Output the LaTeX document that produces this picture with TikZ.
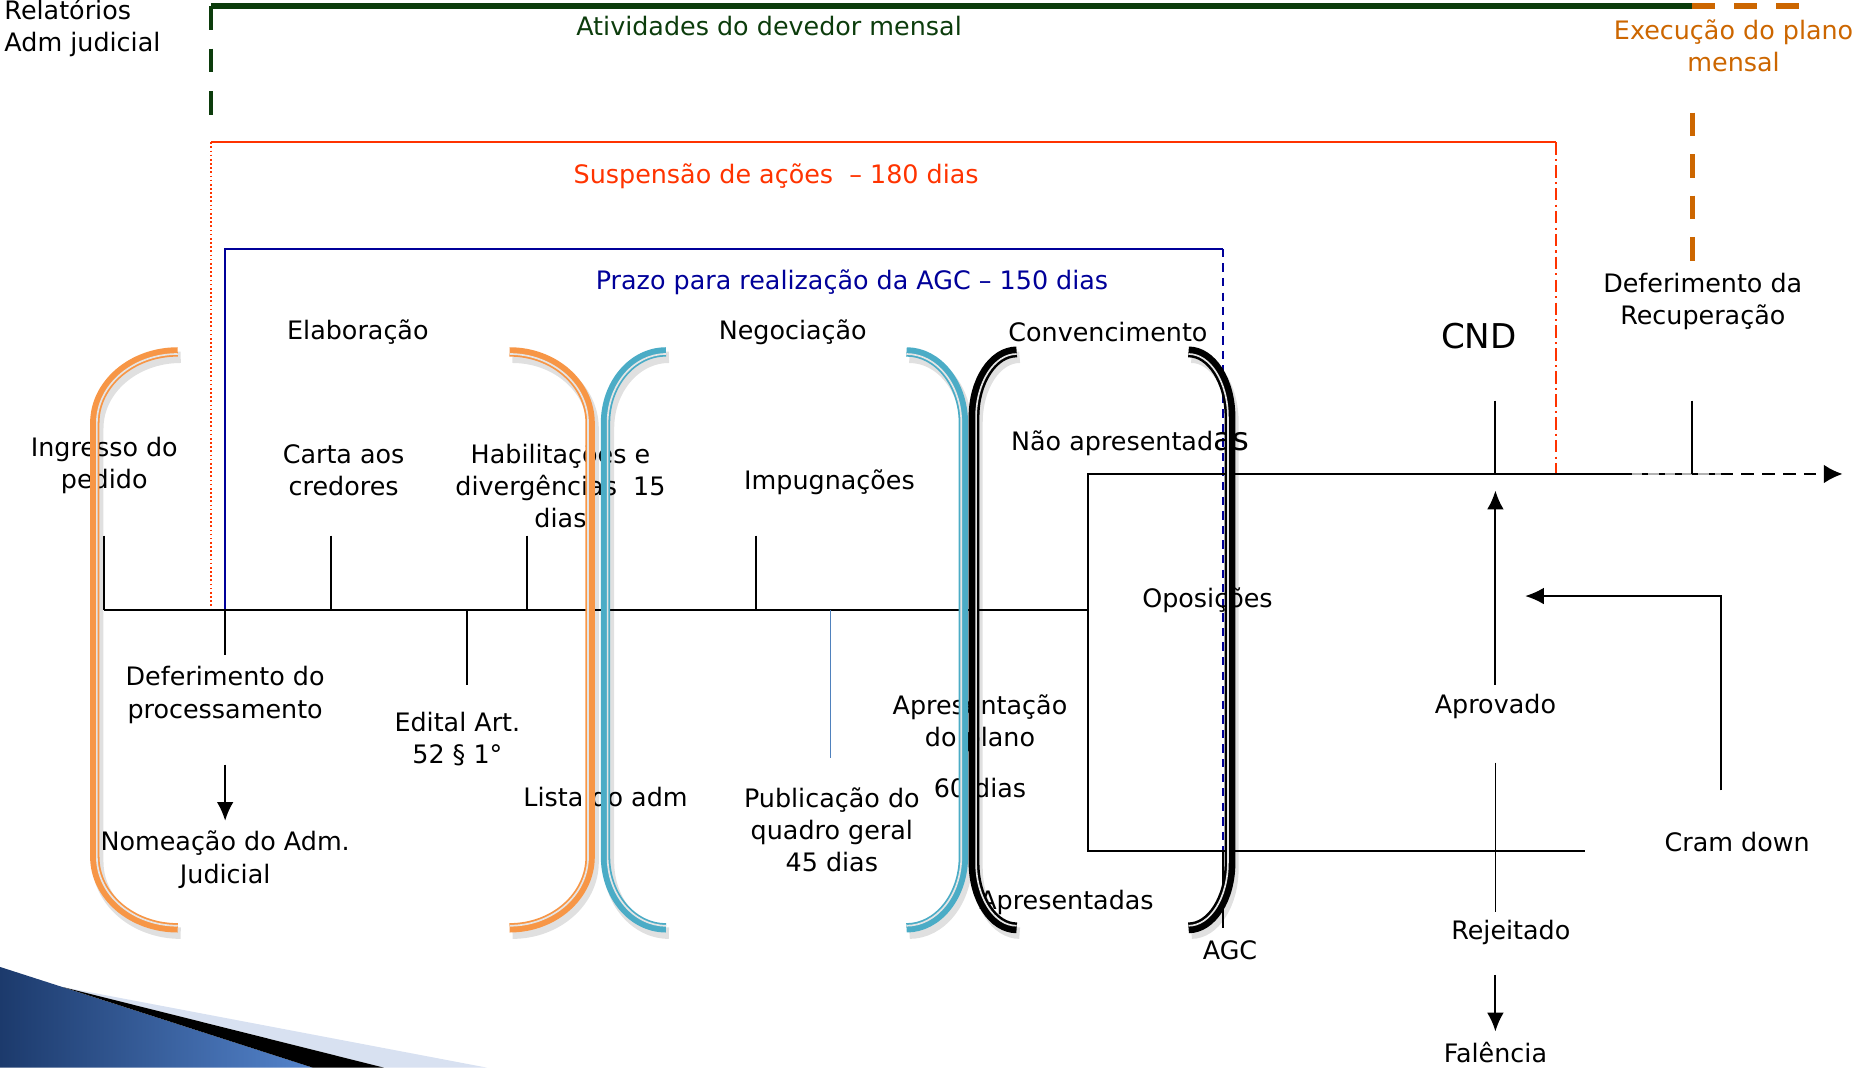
\documentclass[tikz,border=0pt]{standalone}
\usepackage{fontspec}
\setmainfont{DejaVu Sans}
\usetikzlibrary{arrows.meta}

\definecolor{verdeescuro}{RGB}{12,60,12}
\definecolor{laranjaplano}{RGB}{204,102,0}
\definecolor{vermelho}{RGB}{255,51,0}
\definecolor{azulprazo}{RGB}{0,0,153}
\definecolor{laranjabr}{RGB}{247,150,70}
\definecolor{azulbr}{RGB}{75,172,198}
\definecolor{azultick}{RGB}{79,129,189}
\definecolor{navy}{RGB}{28,58,108}
\definecolor{slideblue}{RGB}{84,132,204}
\definecolor{slidepale}{RGB}{216,225,241}

\tikzset{
    >={Latex[length=9pt, width=8pt]},
    lbl/.style={inner sep=0pt, align=center},
    brshadow/.style={preaction={draw=black, opacity=0.12, line width=5.5pt, transform canvas={shift={(0.05,-0.09)}}}},
    orangebr/.style={brshadow, draw=laranjabr, line width=4.5pt},
    bluebr/.style={brshadow, draw=azulbr, line width=4.5pt},
    blackbr/.style={brshadow, draw=black, line width=5.2pt},
    brgap/.style={draw=black!10, line width=0.8pt},
}

\begin{document}
\begin{tikzpicture}[font=\fontsize{12.2}{15.4}\selectfont, line width=0.9pt]
    \useasboundingbox (0,0) rectangle (31.36,-18.02);

    % slide corner
    \shade[left color=navy, right color=slideblue] (0,-16.32) -- (5.28,-18.02) -- (0,-18.02) -- cycle;
    \fill[slidepale] (1.06,-16.66) -- (8.22,-18.02) -- (6.48,-18.02) -- cycle;
    \fill[black] (1.06,-16.66) -- (6.48,-18.02) -- (5.28,-18.02) -- cycle;

    % periods
    \draw[verdeescuro, line width=2.6pt] (3.56,-0.1) -- (28.56,-0.1);
    \draw[verdeescuro, line width=2.3pt, dash pattern=on 0.4cm off 0.32cm] (3.56,-0.1) -- (3.56,-1.94);
    \draw[laranjaplano, line width=2.6pt, dash pattern=on 0.38cm off 0.33cm] (28.56,-0.1) -- (30.36,-0.1);
    \draw[laranjaplano, line width=2.3pt, dash pattern=on 0.4cm off 0.3cm] (28.56,-1.9) -- (28.56,-4.4);
    \draw[vermelho, line width=0.8pt] (3.56,-2.4) -- (26.26,-2.4);
    \draw[vermelho, line width=0.8pt, dash pattern=on 0.8pt off 1.2pt] (3.56,-2.4) -- (3.56,-10.3);
    \draw[vermelho, line width=0.8pt, dash pattern=on 6pt off 2pt on 1pt off 2pt] (26.26,-2.4) -- (26.26,-8.0);
    \draw[azulprazo, line width=0.9pt] (3.8,-10.3) -- (3.8,-4.2) -- (20.64,-4.2);
    \draw[azulprazo, line width=0.9pt, dash pattern=on 4pt off 3pt] (20.64,-4.2) -- (20.64,-14.36);

    % timeline
    \draw (1.76,-10.3) -- (18.36,-10.3);
    \draw (29.04,-8.0) -- (18.36,-8.0) -- (18.36,-14.36) -- (26.76,-14.36);
    \draw[gray!60, line width=1.2pt, dash pattern=on 5pt off 3pt] (27.54,-8.0) -- (29.04,-8.0);
    \draw[-{Latex[length=9pt, width=9pt]}, line width=1.2pt, dash pattern=on 6pt off 4pt] (29.04,-8.0) -- (31.1,-8.0);
    \draw (1.76,-9.04) -- (1.76,-10.3);
    \draw (5.58,-9.04) -- (5.58,-10.3);
    \draw (8.9,-9.04) -- (8.9,-10.3);
    \draw (12.76,-9.04) -- (12.76,-10.3);
    \draw (3.8,-10.3) -- (3.8,-11.06);
    \draw (7.88,-10.3) -- (7.88,-11.56);
    \draw[azultick, line width=0.7pt] (14.02,-10.3) -- (14.02,-12.8);
    \draw (25.24,-6.76) -- (25.24,-8.0);
    \draw (28.56,-6.76) -- (28.56,-8.0);
    \draw (20.64,-14.36) -- (20.64,-15.66);

    \coordinate (cndpt) at (25.24,-8.0);
    \coordinate (cramturn) at (29.04,-10.06);
    \coordinate (cramtip) at (25.74,-10.06);

    % labels
    \node[lbl, anchor=west, align=left] (relat) at (0.06,-0.47) {Relatórios\\Adm judicial};
    \node[lbl, text=verdeescuro] (ativ) at (12.98,-0.44) {Atividades do devedor mensal};
    \node[lbl, text=laranjaplano] (exec) at (29.26,-0.77) {Execução do plano\\mensal};
    \node[lbl, text=vermelho] (susp) at (13.1,-2.98) {Suspensão de ações~ – 180 dias};
    \node[lbl, text=azulprazo] (prazo) at (14.38,-4.76) {Prazo para realização da AGC – 150 dias};
    \node[lbl] (elab) at (6.04,-5.6) {Elaboração};
    \node[lbl] (negoc) at (13.38,-5.6) {Negociação};
    \node[lbl] (conv) at (18.7,-5.6) {Convencimento};
    \node[lbl, font=\fontsize{16.4}{19}\selectfont] (cnd) at (24.96,-5.68) {CND};
    \node[lbl] (deferrec) at (28.74,-5.09) {Deferimento da\\Recuperação};
    \node[lbl] (ingresso) at (1.76,-7.85) {Ingresso do\\pedido};
    \node[lbl] (carta) at (5.8,-7.93) {Carta aos\\credores};
    \node[lbl] (habil) at (9.46,-8.2) {Habilitações e\\divergências~ 15\\dias};
    \node[lbl] (impug) at (14.0,-8.14) {Impugnações};
    \node[lbl] (naoapr) at (19.08,-7.48) {Não apresentad{\fontsize{15.5}{15.5}\selectfont as}};
    \node[lbl] (oposic) at (20.38,-10.14) {Oposições};
    \node[lbl] (deferproc) at (3.8,-11.73) {Deferimento do\\processamento};
    \node[lbl] (edital) at (7.72,-12.47) {Edital Art.\\52 § 1°};
    \node[lbl] (lista) at (10.22,-13.46) {Lista do adm};
    \node[lbl] (public) at (14.04,-14.0) {Publicação do\\quadro geral\\45 dias};
    \node[lbl] (apres) at (16.54,-12.21) {Apresentação\\do plano};
    \node[lbl] (sessenta) at (16.54,-13.3) {60 dias};
    \node[lbl] (nomeacao) at (3.8,-14.51) {Nomeação do Adm.\\Judicial};
    \node[lbl] (apresentadas) at (18.0,-15.24) {Apresentadas};
    \node[lbl] (agc) at (20.76,-16.04) {AGC};
    \node[lbl] (aprovado) at (25.24,-11.92) {Aprovado};
    \node[lbl] (cramdown) at (29.32,-14.22) {Cram down};
    \node[lbl] (rejeitado) at (25.5,-15.74) {Rejeitado};
    \node[lbl] (falencia) at (25.24,-17.76) {Falência};

    % outcomes
    \draw[->, line width=1pt, shorten <=0.68cm, shorten >=0.16cm] (deferproc) -- (nomeacao);
    \draw[->, line width=1pt, shorten <=0.14cm, shorten >=0.28cm] (aprovado.north) -- (cndpt);
    \draw[line width=0.8pt, shorten <=0.73cm, shorten >=0.13cm] (aprovado.south) -- (aprovado.south |- rejeitado.north);
    \draw[->, line width=1pt, shorten <=0.49cm, shorten >=0.16cm] (rejeitado.south -| falencia.north) -- (falencia.north);
    \draw[->, line width=1pt, shorten <=0.7cm] (cramdown.north -| cramturn) -- (cramturn) -- (cramtip);

    % phase brackets
    \draw[orangebr] (3.0,-5.94) arc[start angle=90, end angle=180, x radius=1.4, y radius=1.2] -- ++(0,-7.32) arc[start angle=180, end angle=270, x radius=1.4, y radius=1.2];
    \draw[brgap] (3.0,-5.975) arc[start angle=90, end angle=180, x radius=1.365, y radius=1.165] -- ++(0,-7.32) arc[start angle=180, end angle=270, x radius=1.365, y radius=1.165];
    \draw[orangebr] (8.6,-5.94) arc[start angle=90, end angle=0, x radius=1.36, y radius=1.2] -- ++(0,-7.32) arc[start angle=0, end angle=-90, x radius=1.36, y radius=1.2];
    \draw[brgap] (8.6,-5.975) arc[start angle=90, end angle=0, x radius=1.325, y radius=1.165] -- ++(0,-7.32) arc[start angle=0, end angle=-90, x radius=1.325, y radius=1.165];
    \draw[bluebr] (11.24,-5.94) arc[start angle=90, end angle=180, x radius=1.02, y radius=1.2] -- ++(0,-7.32) arc[start angle=180, end angle=270, x radius=1.02, y radius=1.2];
    \draw[brgap] (11.24,-5.975) arc[start angle=90, end angle=180, x radius=0.985, y radius=1.165] -- ++(0,-7.32) arc[start angle=180, end angle=270, x radius=0.985, y radius=1.165];
    \draw[bluebr] (15.3,-5.94) arc[start angle=90, end angle=0, x radius=0.96, y radius=1.2] -- ++(0,-7.32) arc[start angle=0, end angle=-90, x radius=0.96, y radius=1.2];
    \draw[brgap] (15.3,-5.975) arc[start angle=90, end angle=0, x radius=0.925, y radius=1.165] -- ++(0,-7.32) arc[start angle=0, end angle=-90, x radius=0.925, y radius=1.165];
    \draw[blackbr] (17.16,-5.94) arc[start angle=90, end angle=180, x radius=0.72, y radius=1.1] -- ++(0,-7.52) arc[start angle=180, end angle=270, x radius=0.72, y radius=1.1];
    \draw[brgap] (17.16,-5.975) arc[start angle=90, end angle=180, x radius=0.685, y radius=1.065] -- ++(0,-7.52) arc[start angle=180, end angle=270, x radius=0.685, y radius=1.065];
    \draw[blackbr] (20.06,-5.94) arc[start angle=90, end angle=0, x radius=0.7, y radius=1.1] -- ++(0,-7.52) arc[start angle=0, end angle=-90, x radius=0.7, y radius=1.1];
    \draw[brgap] (20.06,-5.975) arc[start angle=90, end angle=0, x radius=0.665, y radius=1.065] -- ++(0,-7.52) arc[start angle=0, end angle=-90, x radius=0.665, y radius=1.065];
\end{tikzpicture}
\end{document}
